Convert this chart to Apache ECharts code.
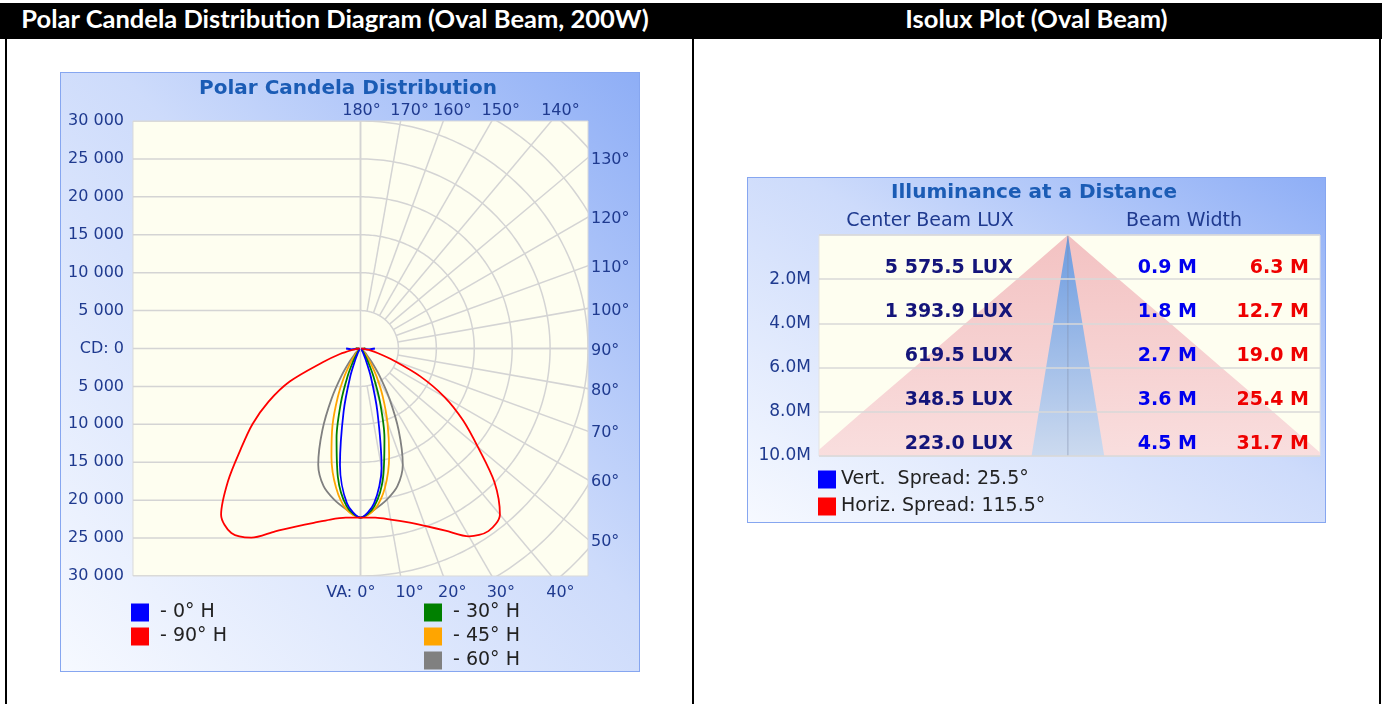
<!DOCTYPE html>
<html>
<head>
<meta charset="utf-8">
<title>Polar Candela Distribution / Isolux Plot (Oval Beam)</title>
<script src="https://cdn.jsdelivr.net/npm/echarts@6/dist/echarts.min.js"></script>
<style>
  html, body { margin: 0; padding: 0; background: #fff; }
  #page { position: relative; width: 1382px; height: 704px; overflow: hidden; }
  .head { position: absolute; top: 3px; height: 36px; line-height: 40px; color: #fff;
          font: bold 25.5px Lato, "Open Sans", sans-serif; text-align: center; white-space: nowrap; }
  .rule { position: absolute; top: 39px; height: 665px; width: 2px; background: #000; }
  .box { position: absolute; box-sizing: border-box; border: 1px solid #86a6f0;
         background: linear-gradient(to top right, #f6f9ff 0%, #cddbfb 55%, #8eaef6 100%); }
  #chart { position: absolute; left: 0; top: 0; width: 1382px; height: 704px; }
</style>
</head>
<body>
<div id="page">
  <div class="head" style="left:0;width:1382px;background:#000;"></div>
  <div class="head" style="left:0;width:670px;">Polar Candela Distribution Diagram (Oval Beam, 200W)</div>
  <div class="head" style="left:693px;width:687px;">Isolux Plot (Oval Beam)</div>
  <div class="rule" style="left:5px;"></div>
  <div class="rule" style="left:692px;"></div>
  <div class="rule" style="left:1379px;"></div>
  <div class="box" style="left:60px;top:72px;width:580px;height:600px;"></div>
  <div class="box" style="left:747px;top:177px;width:579px;height:346px;"></div>
  <div id="chart"></div>
</div>
<script>
// polar candela data, vertical angle in degrees (negative = left half of the diagram)
var vAngles = [-90, -85, -80, -75, -70, -65, -60, -55, -50, -45, -40, -35, -30, -25, -20, -15, -10, -5,
  0, 5, 10, 15, 20, 25, 30, 35, 40, 45, 50, 55, 60, 65, 70, 75, 80, 85, 90];
var cd0H = [1900, 1200, 200, 200, 200, 200, 200, 200, 200, 250, 300, 400, 750, 1600, 4000, 8600, 15600, 20500,
  22300, 20500, 16000, 8600, 4000, 1600, 750, 400, 300, 250, 200, 200, 200, 200, 200, 200, 200, 1200, 1900];
var cd30H = [600, 250, 250, 250, 250, 250, 250, 250, 250, 250, 400, 800, 1900, 4000, 7500, 12200, 17200, 20900,
  22300, 20900, 17200, 12200, 7500, 4000, 1900, 800, 400, 250, 250, 250, 250, 250, 250, 250, 250, 250, 600];
var cd45H = [600, 300, 300, 300, 300, 300, 300, 300, 400, 600, 1100, 2300, 4300, 7100, 10800, 14800, 18600, 21300,
  22300, 21300, 18600, 14600, 10400, 6900, 4200, 2300, 1100, 600, 400, 300, 300, 300, 300, 300, 300, 300, 600];
var cd60H = [700, 300, 300, 300, 300, 300, 300, 400, 600, 1100, 2200, 4300, 7600, 11900, 16300, 18800, 20200, 21300,
  22300, 21300, 20200, 18800, 16300, 11900, 7600, 4300, 2200, 1100, 600, 400, 300, 300, 300, 300, 300, 300, 700];
var cd90H = [100, 400, 1200, 2800, 5300, 10300, 14000, 17400, 20600, 24700, 28600, 29700, 28800, 26600, 25000, 23800, 22900, 22400,
  22300, 22400, 22900, 23700, 24900, 26500, 28600, 29400, 28600, 25000, 20200, 16500, 12800, 8700, 4700, 2400, 1100, 400, 100];

var cdTicks = [-30000, -25000, -20000, -15000, -10000, -5000, 0, 5000, 10000, 15000, 20000, 25000, 30000];
var gridAngles = [0, 10, 20, 30, 40, 50, 60, 70, 80, 90, 100, 110, 120, 130, 140, 150, 160, 170, 180];

// isolux data
var distances = [2, 4, 6, 8, 10];
var centerLux = [5575.5, 1393.9, 619.5, 348.5, 223.0];
var vertWidth = [0.9, 1.8, 2.7, 3.6, 4.5];
var horizWidth = [6.3, 12.7, 19.0, 25.4, 31.7];
var vertSpread = 25.5;
var horizSpread = 115.5;

var FONT = '"DejaVu Sans", Verdana, sans-serif';
var NAVY = '#1f3a8f';
var TITLE = '#1b5cb5';
var GRIDC = '#d4d4d4';
var cdMax = 30000;

function spaced(v, d) {
  var parts = Math.abs(v).toFixed(d).split('.');
  parts[0] = parts[0].replace(/\B(?=(\d{3})+(?!\d))/g, ' ');
  return parts.join('.');
}

function pairs(vals) {
  return vals.map(function (v, i) { return [v, vAngles[i]]; });
}

function toXY(r, deg) {
  var a = deg * Math.PI / 180;
  return [r * Math.sin(a), -r * Math.cos(a)];
}

function renderPolarGrid(params, api) {
  var kids = [];
  function seg(pts) {
    kids.push({ type: 'polyline', shape: { points: pts }, style: { stroke: GRIDC, lineWidth: 1.5, fill: null } });
  }
  // left half: plain horizontal lines
  cdTicks.forEach(function (v) {
    seg([api.coord([-cdMax, v]), api.coord([v === 0 ? cdMax : 0, v])]);
  });
  seg([api.coord([0, -cdMax]), api.coord([0, cdMax])]);
  // right half: arcs and rays
  for (var r = 5000; r <= 45000; r += 5000) {
    var pts = [];
    for (var a = 0; a <= 180; a += 1) pts.push(api.coord(toXY(r, a)));
    seg(pts);
  }
  gridAngles.forEach(function (a) {
    seg([api.coord(toXY(5000, a)), api.coord(toXY(50000, a))]);
  });
  return { type: 'group', children: kids };
}

function renderAngleLabel(params, api) {
  var a = gridAngles[params.dataIndex];
  var rad = a * Math.PI / 180;
  var hit, x, y, align = 'center';
  if (a <= 45) {
    hit = api.coord([cdMax * Math.tan(rad), -cdMax]);
    x = hit[0] + 9; y = hit[1] + 17;
  } else if (a >= 135) {
    hit = api.coord([cdMax * Math.tan(Math.PI - rad), cdMax]);
    x = hit[0] + 9; y = hit[1] - 10;
  } else {
    hit = api.coord([cdMax, -cdMax / Math.tan(rad)]);
    x = hit[0] + 3; y = hit[1] + 2; align = 'left';
  }
  var txt = a + '°';
  if (a === 0) { txt = 'VA: 0°'; align = 'right'; x = hit[0] + 15; }
  if (a === 180) { x = hit[0] + 1; }
  return {
    type: 'text', x: x, y: y,
    style: { text: txt, fill: NAVY, font: '16px ' + FONT, textAlign: align, textVerticalAlign: 'middle' }
  };
}

function beamShape(widths, top, bottom, centerLine) {
  return function (params, api) {
    var pts = [api.coord([0, 0])];
    for (var i = 0; i < distances.length; i++) pts.push(api.coord([widths[i] / 2, distances[i]]));
    for (var j = distances.length - 1; j >= 0; j--) pts.push(api.coord([-widths[j] / 2, distances[j]]));
    var kids = [{
      type: 'polygon', shape: { points: pts },
      style: { fill: new echarts.graphic.LinearGradient(0, 0, 0, 1, [
        { offset: 0, color: top }, { offset: 1, color: bottom }]) }
    }];
    if (centerLine) {
      var p0 = api.coord([0, 0]), p1 = api.coord([0, distances[distances.length - 1]]);
      kids.push({ type: 'line', shape: { x1: p0[0], y1: p0[1], x2: p1[0], y2: p1[1] },
        style: { stroke: 'rgba(130,140,170,0.55)', lineWidth: 1 } });
    }
    return { type: 'group', children: kids };
  };
}

function renderRow(params, api) {
  var i = params.dataIndex;
  var p = api.coord([0, distances[i]]);
  var y = p[1] - 11.5;
  var f = 'bold 19px ' + FONT;
  return { type: 'group', children: [
    { type: 'text', x: p[0] - 55, y: y, style: { text: spaced(centerLux[i], 1) + ' LUX', fill: '#14157a', font: f, textAlign: 'right', textVerticalAlign: 'middle' } },
    { type: 'text', x: p[0] + 129, y: y, style: { text: vertWidth[i].toFixed(1) + ' M', fill: '#0000ee', font: f, textAlign: 'right', textVerticalAlign: 'middle' } },
    { type: 'text', x: p[0] + 241, y: y, style: { text: horizWidth[i].toFixed(1) + ' M', fill: '#ee0000', font: f, textAlign: 'right', textVerticalAlign: 'middle' } }
  ] };
}

var vertName = 'Vert.  Spread: ' + vertSpread + '°';
var horizName = 'Horiz. Spread: ' + horizSpread + '°';

function planeLine(name, vals, color, z) {
  return {
    name: name, type: 'line', coordinateSystem: 'polar', polarIndex: 0,
    data: pairs(vals), symbol: 'none', smooth: 0.3, color: color, z: z,
    lineStyle: { color: color, width: 1.8 }, silent: true, animation: false
  };
}

var chart = echarts.init(document.getElementById('chart'));
chart.setOption({
  animation: false,
  graphic: [
    { type: 'text', x: 348, y: 89, style: { text: 'Polar Candela Distribution', font: 'bold 20px ' + FONT, fill: TITLE, textAlign: 'center', textVerticalAlign: 'middle' } },
    { type: 'text', x: 1034, y: 193, style: { text: 'Illuminance at a Distance', font: 'bold 20px ' + FONT, fill: TITLE, textAlign: 'center', textVerticalAlign: 'middle' } },
    { type: 'text', x: 930, y: 221, style: { text: 'Center Beam LUX', font: '19px ' + FONT, fill: NAVY, textAlign: 'center', textVerticalAlign: 'middle' } },
    { type: 'text', x: 1184, y: 221, style: { text: 'Beam Width', font: '19px ' + FONT, fill: NAVY, textAlign: 'center', textVerticalAlign: 'middle' } }
  ],
  legend: [
    { data: ['0° H', '90° H'], left: 131, top: 603, orient: 'vertical', padding: 0, icon: 'rect',
      itemWidth: 18, itemHeight: 18, itemGap: 5, formatter: ' - {name}', selectedMode: false,
      textStyle: { fontFamily: FONT, fontSize: 19, color: '#222' } },
    { data: ['30° H', '45° H', '60° H'], left: 424, top: 603, orient: 'vertical', padding: 0, icon: 'rect',
      itemWidth: 18, itemHeight: 18, itemGap: 5, formatter: ' - {name}', selectedMode: false,
      textStyle: { fontFamily: FONT, fontSize: 19, color: '#222' } },
    { data: [vertName, horizName], left: 818, top: 470, orient: 'vertical', padding: 0, icon: 'rect',
      itemWidth: 18, itemHeight: 18, itemGap: 8, selectedMode: false,
      textStyle: { fontFamily: FONT, fontSize: 19, color: '#222' } }
  ],
  grid: [
    { left: 133, top: 121, width: 455, height: 455, show: true, backgroundColor: '#fefef0', borderColor: '#d9d9d9', borderWidth: 1 },
    { left: 819, top: 235, width: 501, height: 221, show: true, backgroundColor: '#fefef0', borderColor: '#e2e2e2', borderWidth: 1 }
  ],
  xAxis: [
    { gridIndex: 0, type: 'value', min: -cdMax, max: cdMax, show: false },
    { gridIndex: 1, type: 'value', min: -15.4, max: 15.6, show: false }
  ],
  yAxis: [
    { gridIndex: 0, type: 'value', min: -cdMax, max: cdMax, interval: 5000,
      axisLine: { show: false }, axisTick: { show: false }, splitLine: { show: false },
      axisLabel: { margin: 9, color: NAVY, fontFamily: FONT, fontSize: 16, padding: [4, 0, 0, 0],
        showMinLabel: true, showMaxLabel: true,
        formatter: function (v) { return v === 0 ? 'CD: 0' : spaced(v, 0); } } },
    { gridIndex: 1, type: 'value', min: 0, max: 10, interval: 2, inverse: true, z: 10,
      axisLine: { show: false }, axisTick: { show: false },
      splitLine: { show: true, lineStyle: { color: '#d8d8d8', width: 1.5 } },
      axisLabel: { margin: 8, color: NAVY, fontFamily: FONT, fontSize: 17, padding: [4, 0, 0, 0],
        showMinLabel: true, showMaxLabel: true,
        formatter: function (v) { return v === 0 ? '' : v.toFixed(1) + 'M'; } } }
  ],
  polar: { center: [360.5, 348.5], radius: 227.5 },
  angleAxis: { type: 'value', min: -180, max: 180, startAngle: 90, clockwise: false, show: false },
  radiusAxis: { type: 'value', min: 0, max: cdMax, show: false },
  series: [
    { type: 'custom', xAxisIndex: 0, yAxisIndex: 0, data: [[0, 0]], renderItem: renderPolarGrid, clip: true, silent: true, z: 1 },
    { type: 'custom', xAxisIndex: 0, yAxisIndex: 0, data: gridAngles.map(function () { return [0, 0]; }), renderItem: renderAngleLabel, silent: true, z: 1 },
    planeLine('60° H', cd60H, '#808080', 3),
    planeLine('45° H', cd45H, '#ffa500', 4),
    planeLine('30° H', cd30H, '#008000', 5),
    planeLine('0° H', cd0H, '#0000ff', 6),
    planeLine('90° H', cd90H, '#ff0000', 7),
    { name: horizName, type: 'custom', xAxisIndex: 1, yAxisIndex: 1, data: [[0, 0]], color: '#ff0000',
      renderItem: beamShape(horizWidth, '#f3c2c2', '#f9dede', false), clip: true, silent: true, z: 2 },
    { name: vertName, type: 'custom', xAxisIndex: 1, yAxisIndex: 1, data: [[0, 0]], color: '#0000ff',
      renderItem: beamShape(vertWidth, '#6c9be0', '#ccdaef', true), clip: true, silent: true, z: 3 },
    { type: 'custom', xAxisIndex: 1, yAxisIndex: 1, data: distances.map(function (d) { return [0, d]; }),
      renderItem: renderRow, silent: true, z: 12 }
  ]
});
</script>
</body>
</html>
